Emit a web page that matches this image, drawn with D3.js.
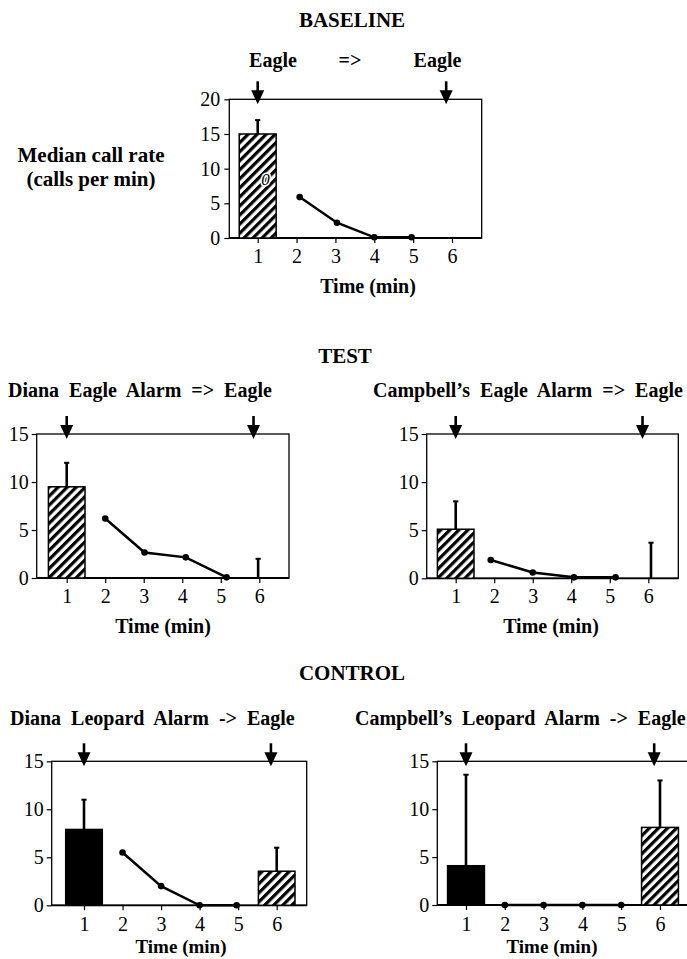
<!DOCTYPE html>
<html>
<head>
<meta charset="utf-8">
<script src="https://cdn.jsdelivr.net/npm/d3@7"></script>
<style>
  body { margin: 0; background: #fff; }
  svg text { font-family: "Liberation Serif", "Times New Roman", Times, "DejaVu Serif", serif; fill: #000; }
  .bold { font-weight: bold; font-size: 20px; }
  .head { font-size: 21px; }
  .tick text { font-size: 20px; }
</style>
</head>
<body>
<svg id="chart" width="687" height="959" font-family="Liberation Serif, DejaVu Serif, serif"></svg>
<script>
// values (median call rate, calls per min)
const minutes = [1, 2, 3, 4, 5, 6];
const arrowMinutes = [1, 5.85];

const baselineBars = [{ t: 1, v: 15, upper: 17, kind: "eagle" }];
const baselineLine = [{ t: 2.08, v: 5.9 }, { t: 3.04, v: 2.2 }, { t: 4, v: 0.1 }, { t: 4.96, v: 0.1 }];

const dianaEagleBars = [{ t: 1, v: 9.5, upper: 12, kind: "eagle" }, { t: 5.97, v: 0, upper: 2, kind: "eagle" }];
const dianaEagleLine = [{ t: 2, v: 6.2 }, { t: 3.02, v: 2.65 }, { t: 4.09, v: 2.15 }, { t: 5.15, v: 0.07 }];

const campEagleBars = [{ t: 1, v: 5.1, upper: 8, kind: "eagle" }, { t: 6.07, v: 0, upper: 3.7, kind: "eagle" }];
const campEagleLine = [{ t: 1.91, v: 1.9 }, { t: 3, v: 0.6 }, { t: 4.07, v: 0.1 }, { t: 5.15, v: 0.1 }];

const dianaLeopardBars = [{ t: 1, v: 7.9, upper: 11, kind: "leopard" }, { t: 6, v: 3.55, upper: 6, kind: "eagle" }];
const dianaLeopardLine = [{ t: 2, v: 5.5 }, { t: 3, v: 2.0 }, { t: 4, v: 0 }, { t: 4.96, v: 0 }];

const campLeopardBars = [{ t: 1, v: 4.1, upper: 13.6, kind: "leopard" }, { t: 6, v: 8.1, upper: 13, kind: "eagle" }];
const campLeopardLine = [{ t: 2, v: 0 }, { t: 3, v: 0 }, { t: 4, v: 0 }, { t: 5, v: 0 }];

const svg = d3.select("#chart");
const FONT = "'Liberation Serif', 'Times New Roman', Times, 'DejaVu Serif', serif";

// hatch for eagle bars
svg.append("defs").append("pattern")
    .attr("id", "hatch")
    .attr("patternUnits", "userSpaceOnUse")
    .attr("width", 6.4).attr("height", 6.4)
    .attr("patternTransform", "rotate(45)")
  .call(p => {
    p.append("rect").attr("width", 6.4).attr("height", 6.4).attr("fill", "#fff");
    p.append("rect").attr("width", 3.2).attr("height", 6.4).attr("fill", "#000");
  });

function panel(o) {
  const x = d3.scaleLinear().domain([1, 6]).range([o.x1, o.x6]);
  const y = d3.scaleLinear().domain([0, o.ymax]).range([o.bottom, o.top]);
  const g = svg.append("g");
  const bw = 0.95 * (o.x6 - o.x1) / 5;

  // frame
  g.append("rect")
      .attr("x", o.left).attr("y", o.top)
      .attr("width", o.right - o.left).attr("height", o.bottom - o.top)
      .attr("fill", "none").attr("stroke", "#000").attr("stroke-width", 1.3);

  const yAxis = g.append("g")
      .attr("transform", `translate(${o.left},0)`)
      .call(d3.axisLeft(y).tickValues(d3.range(0, o.ymax + 1, 5)).tickSize(5).tickPadding(o.ypad));
  yAxis.select(".domain").remove();

  const xAxis = g.append("g")
      .attr("transform", `translate(0,${o.bottom})`)
      .call(d3.axisBottom(x).tickValues(minutes).tickSize(5).tickPadding(o.xpad).tickFormat(d3.format("d")));
  xAxis.select(".domain").remove();
  [yAxis, xAxis].forEach(a => a.attr("font-family", null).attr("font-size", null));
  g.append("line")
      .attr("x1", o.left).attr("x2", o.right)
      .attr("y1", o.bottom).attr("y2", o.bottom)
      .attr("stroke", "#000").attr("stroke-width", 1.8);
  g.selectAll(".tick line").attr("stroke-width", 1.2);
  g.selectAll(".tick text").style("font-family", FONT).style("font-size", "20px");

  // bars
  g.selectAll(".bar")
    .data(o.bars.filter(d => d.v > 0))
    .join("rect")
      .attr("x", d => x(d.t) - bw / 2)
      .attr("y", d => y(d.v))
      .attr("width", bw)
      .attr("height", d => y(0) - y(d.v))
      .attr("fill", d => d.kind === "eagle" ? "url(#hatch)" : "#000")
      .attr("stroke", "#000").attr("stroke-width", 1.5);

  // upper error bars
  const err = g.selectAll(".err").data(o.bars).join("g");
  err.append("line")
      .attr("x1", d => x(d.t)).attr("x2", d => x(d.t))
      .attr("y1", d => y(d.v)).attr("y2", d => y(d.upper))
      .attr("stroke", "#000").attr("stroke-width", 2.6);
  err.append("line")
      .attr("x1", d => x(d.t) - 2.6).attr("x2", d => x(d.t) + 2.6)
      .attr("y1", d => y(d.upper)).attr("y2", d => y(d.upper))
      .attr("stroke", "#000").attr("stroke-width", 2);

  // minutes 2-5 line
  g.append("path")
      .datum(o.line)
      .attr("fill", "none").attr("stroke", "#000").attr("stroke-width", 2.5)
      .attr("d", d3.line().x(d => x(d.t)).y(d => y(d.v)));
  g.selectAll(".pt")
    .data(o.line)
    .join("circle")
      .attr("cx", d => x(d.t)).attr("cy", d => y(d.v)).attr("r", 3.3)
      .attr("fill", "#000");

  // playback arrows
  const ar = g.selectAll(".arrow").data(arrowMinutes).join("g")
      .attr("transform", d => `translate(${x(d)},${o.top})`);
  ar.append("line").attr("y1", -18).attr("y2", -8)
      .attr("stroke", "#000").attr("stroke-width", 2.6);
  ar.append("path").attr("d", "M-6.5,-9L6.5,-9L0,5Z").attr("fill", "#000");

  // labels
  g.append("text").attr("class", "bold")
      .attr("x", o.timeX).attr("y", o.timeY)
      .attr("text-anchor", "middle")
      .style("font-size", (o.timeSize || 20) + "px")
      .text("Time (min)");
  if (o.title) {
    g.append("text").attr("class", "bold")
        .attr("x", o.titleX).attr("y", o.titleY)
        .style("word-spacing", "5px")
        .text(o.title);
  }
  return { g, x, y };
}

// section headings
svg.append("text").attr("class", "bold head").attr("x", 352).attr("y", 27).attr("text-anchor", "middle").text("BASELINE");
svg.append("text").attr("class", "bold head").attr("x", 345).attr("y", 363).attr("text-anchor", "middle").text("TEST");
svg.append("text").attr("class", "bold head").attr("x", 352).attr("y", 680).attr("text-anchor", "middle").text("CONTROL");

// y label
const yl = svg.append("text").attr("class", "bold head").attr("text-anchor", "middle");
yl.append("tspan").attr("x", 91).attr("y", 162).text("Median call rate");
yl.append("tspan").attr("x", 91).attr("y", 186).text("(calls per min)");

// baseline header
[["Eagle", 273], ["=>", 350], ["Eagle", 437.5]].forEach(([t, cx]) => {
  svg.append("text").attr("class", "bold").attr("x", cx).attr("y", 67).attr("text-anchor", "middle").text(t);
});

const base = panel({
  left: 229.3, right: 481.7, top: 99.3, bottom: 238, ymax: 20,
  x1: 257.7, x6: 452, ypad: 4, xpad: 6,
  bars: baselineBars, line: baselineLine,
  timeX: 368, timeY: 293
});
// stray "0" printed inside the baseline bar
base.g.append("text")
    .attr("x", base.x(1.2)).attr("y", base.y(7.6))
    .attr("text-anchor", "middle")
    .style("font-size", "17px").style("font-style", "italic")
    .attr("stroke", "#fff").attr("stroke-width", 3).style("paint-order", "stroke")
    .text("0");

panel({
  left: 36.7, right: 289, top: 434, bottom: 578, ymax: 15,
  x1: 66.7, x6: 259.3, ypad: 3, xpad: 6,
  bars: dianaEagleBars, line: dianaEagleLine,
  title: "Diana Eagle Alarm => Eagle", titleX: 8, titleY: 397,
  timeX: 163, timeY: 633
});
panel({
  left: 426.7, right: 678.3, top: 434, bottom: 578.3, ymax: 15,
  x1: 455.7, x6: 648.3, ypad: 3, xpad: 6,
  bars: campEagleBars, line: campEagleLine,
  title: "Campbell\u2019s Eagle Alarm => Eagle", titleX: 373, titleY: 397,
  timeX: 551, timeY: 633
});
panel({
  left: 51.7, right: 306.7, top: 761.3, bottom: 905.3, ymax: 15,
  x1: 84, x6: 276.7, ypad: 3, xpad: 7,
  bars: dianaLeopardBars, line: dianaLeopardLine,
  title: "Diana Leopard Alarm -> Eagle", titleX: 10, titleY: 725,
  timeX: 181, timeY: 953, timeSize: 19
});
panel({
  left: 437.3, right: 690, top: 761.3, bottom: 905, ymax: 15,
  x1: 466, x6: 660, ypad: 3, xpad: 7,
  bars: campLeopardBars, line: campLeopardLine,
  title: "Campbell\u2019s Leopard Alarm -> Eagle", titleX: 355, titleY: 725,
  timeX: 552, timeY: 953, timeSize: 19
});
</script>
</body>
</html>
